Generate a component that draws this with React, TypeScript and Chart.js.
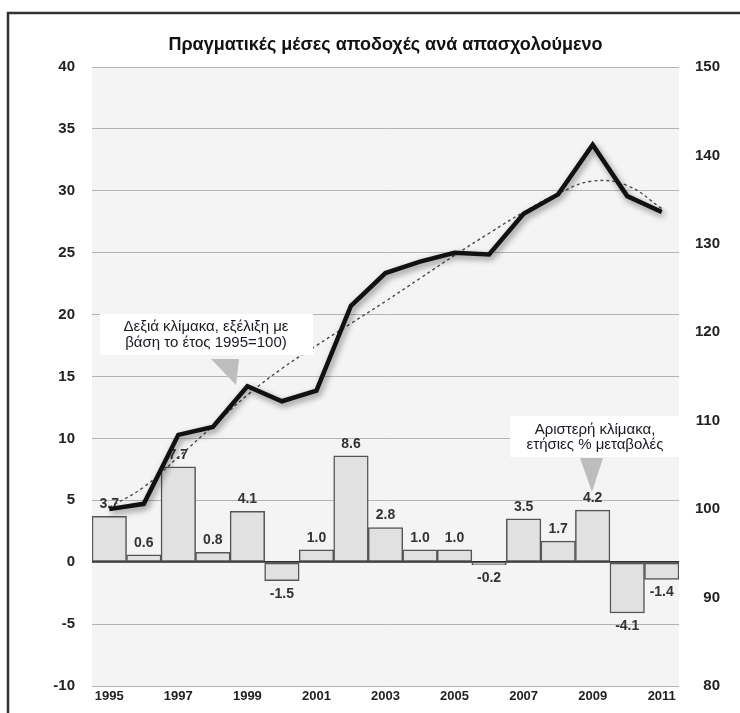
import React, { useEffect, useRef } from 'react';
import { Chart, registerables } from 'chart.js';

Chart.register(...registerables);

const chartTitle = 'Πραγματικές μέσες αποδοχές ανά απασχολούμενο';
const years = ['1995', '1996', '1997', '1998', '1999', '2000', '2001', '2002', '2003', '2004', '2005', '2006', '2007', '2008', '2009', '2010', '2011'];
// left scale: annual % change
const annualChange = [3.7, 0.6, 7.7, 0.8, 4.1, -1.5, 1.0, 8.6, 2.8, 1.0, 1.0, -0.2, 3.5, 1.7, 4.2, -4.1, -1.4];
// right scale: index 1995 = 100
const earningsIndex = [100.0, 100.6, 108.4, 109.3, 113.9, 112.2, 113.4, 123.0, 126.7, 128.0, 129.0, 128.8, 133.4, 135.6, 141.2, 135.4, 133.6];
const trendIndex = [100.2, 102.5, 105.9, 109.4, 112.9, 115.9, 118.5, 121.0, 123.5, 126.1, 128.7, 131.2, 133.6, 135.7, 137.1, 136.6, 134.0];
const leftMin = -10;
const leftMax = 40;
const leftStep = 5;
const rightMin = 80;
const rightMax = 150;
const rightStep = 10;
const noteRightScale = ['Δεξιά κλίμακα, εξέλιξη με', 'βάση το έτος 1995=100)'];
const noteLeftScale = ['Αριστερή κλίμακα,', 'ετήσιες % μεταβολές'];

const FONT = '"Liberation Sans", Arial, Helvetica, sans-serif';

const decorPlugin = {
  id: 'decor',
  beforeDraw(chart: any) {
    const { ctx, chartArea: ca } = chart;
    ctx.save();
    ctx.fillStyle = '#ffffff';
    ctx.fillRect(0, 0, chart.width, chart.height);
    ctx.fillStyle = '#f4f4f4';
    ctx.fillRect(ca.left, ca.top, ca.right - ca.left, ca.bottom - ca.top);
    ctx.restore();
  },
  beforeDatasetDraw(chart: any, args: any) {
    if (args.index === 2) {
      const ctx = chart.ctx;
      ctx.save();
      ctx.shadowColor = 'rgba(0,0,0,0.45)';
      ctx.shadowBlur = 6;
      ctx.shadowOffsetX = 2;
      ctx.shadowOffsetY = 3;
    }
  },
  afterDatasetDraw(chart: any, args: any) {
    const ctx = chart.ctx;
    if (args.index === 2) {
      ctx.restore();
    }
    if (args.index === 0) {
      const meta = chart.getDatasetMeta(0);
      ctx.save();
      ctx.font = `bold 14px ${FONT}`;
      ctx.fillStyle = '#333333';
      ctx.textAlign = 'center';
      ctx.textBaseline = 'middle';
      meta.data.forEach((el: any, i: number) => {
        const v = annualChange[i];
        const txt = v.toFixed(1);
        if (v >= 0) {
          ctx.fillText(txt, el.x, el.y - 12);
        } else {
          ctx.fillText(txt, el.x, el.y + 13);
        }
      });
      ctx.restore();
    }
  },
  afterDraw(chart: any) {
    const { ctx, chartArea: ca } = chart;
    ctx.save();
    // title
    ctx.font = `bold 18px ${FONT}`;
    ctx.fillStyle = '#111111';
    ctx.textAlign = 'center';
    ctx.textBaseline = 'middle';
    ctx.fillText(chartTitle, (ca.left + ca.right) / 2, 45);

    // note box 1
    const L = ca.left;
    const T = ca.top;
    ctx.fillStyle = '#ffffff';
    ctx.fillRect(L + 8, T + 247, 213, 41);
    ctx.fillStyle = '#bdbdbd';
    ctx.beginPath();
    ctx.moveTo(L + 119, T + 292);
    ctx.lineTo(L + 147, T + 292);
    ctx.lineTo(L + 144, T + 318);
    ctx.closePath();
    ctx.fill();
    ctx.font = `15px ${FONT}`;
    ctx.fillStyle = '#1a1a22';
    ctx.textAlign = 'center';
    ctx.textBaseline = 'middle';
    ctx.fillText(noteRightScale[0], L + 114, T + 260);
    ctx.fillText(noteRightScale[1], L + 114, T + 276);

    // note box 2
    ctx.fillStyle = '#ffffff';
    ctx.fillRect(L + 418, T + 349, 170, 41);
    ctx.fillStyle = '#bdbdbd';
    ctx.beginPath();
    ctx.moveTo(L + 488, T + 391);
    ctx.lineTo(L + 511, T + 391);
    ctx.lineTo(L + 500, T + 425);
    ctx.closePath();
    ctx.fill();
    ctx.fillStyle = '#1a1a22';
    ctx.fillText(noteLeftScale[0], L + 503, T + 363);
    ctx.fillText(noteLeftScale[1], L + 503, T + 378);

    // frame
    ctx.strokeStyle = '#333333';
    ctx.lineWidth = 2.5;
    ctx.beginPath();
    ctx.moveTo(8, chart.height);
    ctx.lineTo(8, 13);
    ctx.lineTo(chart.width, 13);
    ctx.stroke();
    ctx.restore();
  },
};

export default function App() {
  const ref = useRef<HTMLCanvasElement | null>(null);
  useEffect(() => {
    if (!ref.current) return;
    const chart = new Chart(ref.current, {
      type: 'bar',
      data: {
        labels: years,
        datasets: [
          {
            type: 'bar',
            label: 'annual',
            data: annualChange,
            yAxisID: 'yL',
            backgroundColor: '#e1e1e1',
            borderColor: '#555555',
            borderWidth: 1.5,
            borderSkipped: false,
            categoryPercentage: 1,
            barPercentage: 1,
            order: 3,
          } as any,
          {
            type: 'line',
            label: 'trend',
            data: trendIndex,
            yAxisID: 'yR',
            borderColor: '#4a4a4a',
            borderWidth: 1.4,
            borderDash: [3, 3],
            pointRadius: 0,
            tension: 0.4,
            fill: false,
            order: 2,
          } as any,
          {
            type: 'line',
            label: 'index',
            data: earningsIndex,
            yAxisID: 'yR',
            borderColor: '#111111',
            borderWidth: 4.5,
            pointRadius: 0,
            tension: 0,
            fill: false,
            borderJoinStyle: 'miter',
            order: 1,
          } as any,
        ],
      },
      options: {
        responsive: false,
        animation: false,
        layout: { padding: { top: 67, left: 0, right: 20, bottom: 0 } },
        plugins: {
          legend: { display: false },
          title: { display: false },
          tooltip: { enabled: false },
        },
        scales: {
          x: {
            grid: { display: false, drawTicks: false },
            border: { display: false },
            ticks: {
              autoSkip: false,
              maxRotation: 0,
              padding: 3,
              color: '#222222',
              font: { family: FONT, size: 13, weight: 'bold' },
              callback: (_v: any, i: number) => (i % 2 === 0 ? years[i] : ''),
            },
            afterFit: (s: any) => { s.height = 27; },
          },
          yL: {
            position: 'left',
            min: leftMin,
            max: leftMax,
            border: { display: false },
            grid: {
              drawTicks: false,
              color: (c: any) => (c.tick && c.tick.value === 0 ? '#2a2a2a' : '#b4b4b4'),
              lineWidth: (c: any) => (c.tick && c.tick.value === 0 ? 1.8 : 1),
            },
            ticks: {
              stepSize: leftStep,
              padding: 17,
              color: '#222222',
              font: { family: FONT, size: 15, weight: 'bold' },
            },
            afterFit: (s: any) => { s.width = 92; },
          },
          yR: {
            position: 'right',
            min: rightMin,
            max: rightMax,
            border: { display: false },
            grid: { display: false, drawTicks: false },
            ticks: {
              stepSize: rightStep,
              padding: 16,
              crossAlign: 'far',
              color: '#222222',
              font: { family: FONT, size: 15, weight: 'bold' },
            },
            afterFit: (s: any) => { s.width = 41; },
          },
        },
      } as any,
      plugins: [decorPlugin],
    });
    return () => chart.destroy();
  }, []);
  return (
    <div style={{ position: 'absolute', left: 0, top: 0, width: 740, height: 713 }}>
      <canvas ref={ref} width={740} height={713} style={{ display: 'block' }} />
    </div>
  );
}
